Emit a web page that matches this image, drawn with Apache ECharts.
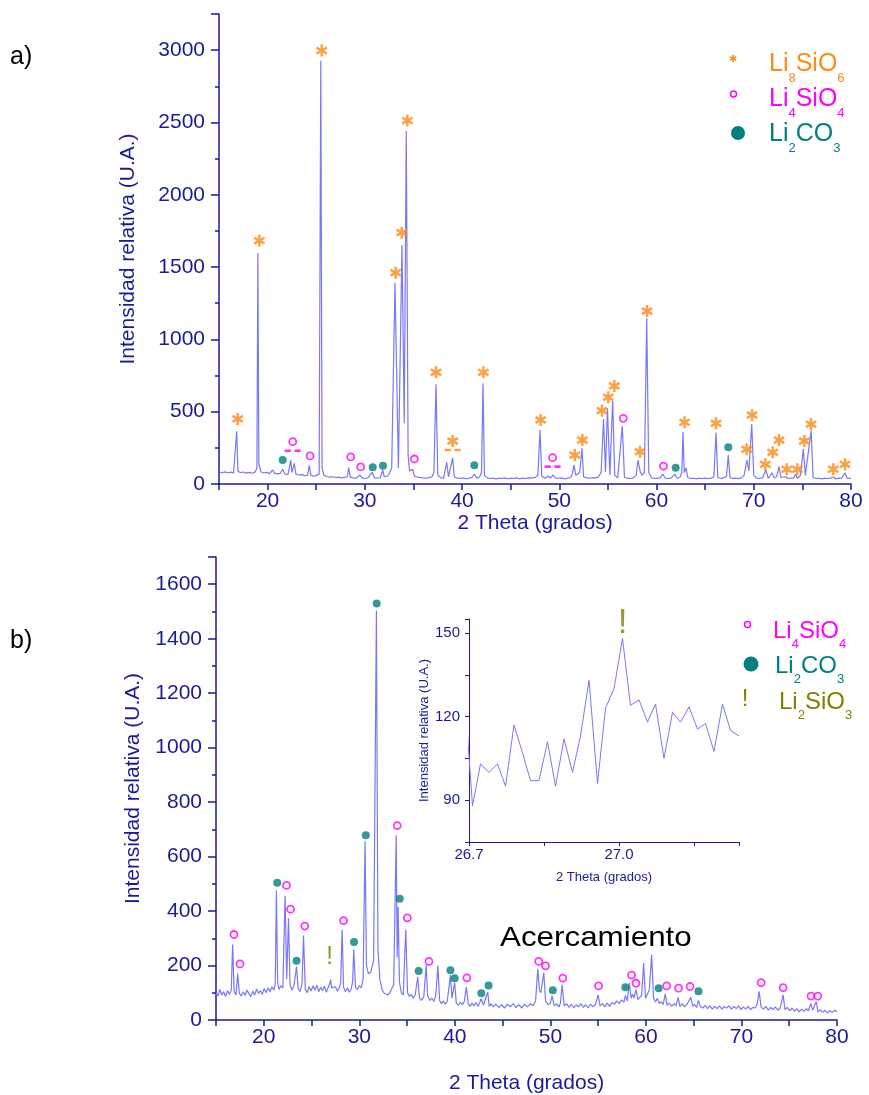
<!DOCTYPE html>
<html>
<head>
<meta charset="utf-8">
<title>DRX Li8SiO6</title>
<script src="https://cdn.jsdelivr.net/npm/echarts/dist/echarts.min.js"></script>
<style>
  html, body { margin: 0; padding: 0; background: #fff; }
  #chart { width: 869px; height: 1095px; }
</style>
</head>
<body>
<div id="chart"></div>
<script>
// colores y fuente
const NAVY = '#1a1a9a'
const TRACE = '#7878f8'
const ORANGE = '#ff8a14'
const MAGENTA = '#ff00ff'
const TEAL = '#008080'
const OLIVE = '#808000'
const FONT = '"Liberation Sans", Arial, sans-serif'

// ---- a) patron de difraccion [2theta, intensidad]
const traceA = [
  [15.0, 85], [15.3, 78], [15.6, 84], [15.9, 76], [16.2, 82], [16.5, 77], [16.7, 85], [16.82, 365], [16.95, 90],
  [17.2, 78], [17.5, 83], [17.8, 75], [18.1, 80], [18.4, 74], [18.7, 82], [18.9, 110], [19.0, 1598], [19.1, 140],
  [19.3, 85], [19.6, 76], [19.9, 80], [20.2, 72], [20.52, 97], [20.7, 75], [21.0, 70], [21.3, 74], [21.55, 101],
  [21.8, 68], [22.1, 66], [22.37, 166], [22.5, 80], [22.74, 143], [22.9, 70], [23.2, 62], [23.5, 65], [23.8, 58],
  [24.1, 60], [24.29, 129], [24.45, 60], [24.7, 55], [25.0, 58], [25.3, 70], [25.47, 2927], [25.6, 110], [25.8, 60],
  [26.1, 52], [26.4, 48], [26.7, 50], [27.0, 45], [27.3, 48], [27.6, 42], [27.9, 46], [28.2, 50], [28.34, 113],
  [28.5, 48], [28.8, 42], [29.1, 40], [29.5, 62], [29.7, 42], [30.0, 38], [30.3, 42], [30.5, 45], [30.77, 81],
  [31.0, 42], [31.3, 40], [31.6, 45], [31.83, 97], [32.0, 50], [32.3, 55], [32.5, 70], [32.76, 110], [32.95, 120],
  [33.1, 1392], [33.45, 110], [33.82, 1653], [34.05, 420], [34.26, 2441], [34.45, 200], [34.6, 90], [34.92, 101],
  [35.1, 55], [35.4, 48], [35.7, 45], [36.0, 42], [36.3, 40], [36.6, 44], [36.9, 50], [37.1, 80], [37.32, 690],
  [37.5, 60], [37.8, 44], [38.1, 40], [38.42, 150], [38.6, 50], [38.75, 55], [39.03, 180], [39.2, 50], [39.5, 40],
  [39.8, 38], [40.1, 42], [40.4, 36], [40.7, 40], [41.0, 44], [41.26, 69], [41.5, 42], [41.8, 48], [42.0, 80],
  [42.15, 696], [42.3, 60], [42.6, 42], [42.9, 38], [43.2, 40], [43.5, 36], [43.8, 40], [44.1, 38], [44.4, 42],
  [44.7, 36], [45.0, 40], [45.3, 38], [45.6, 42], [45.9, 36], [46.2, 40], [46.5, 38], [46.8, 42], [47.1, 40],
  [47.5, 44], [47.8, 60], [48.01, 373], [48.2, 55], [48.5, 40], [48.87, 55], [49.1, 42], [49.38, 62], [49.6, 40],
  [49.9, 38], [50.2, 42], [50.5, 36], [50.8, 40], [51.1, 44], [51.3, 60], [51.51, 131], [51.7, 60], [51.9, 55],
  [52.1, 80], [52.33, 247], [52.5, 50], [52.8, 42], [53.1, 40], [53.4, 44], [53.7, 42], [54.0, 48], [54.3, 80],
  [54.55, 450], [54.75, 85], [54.95, 523], [55.2, 62], [55.49, 576], [55.7, 60], [56.0, 42], [56.2, 50],
  [56.48, 401], [56.7, 45], [57.0, 40], [57.3, 38], [57.6, 42], [57.9, 60], [58.1, 166], [58.3, 90], [58.5, 60],
  [58.75, 80], [58.99, 1148], [59.2, 80], [59.5, 42], [59.8, 38], [60.1, 40], [60.4, 42], [60.64, 69], [60.9, 40],
  [61.2, 38], [61.5, 40], [61.87, 69], [62.1, 40], [62.4, 45], [62.6, 80], [62.72, 362], [62.85, 80], [63.03, 111],
  [63.2, 45], [63.5, 38], [63.8, 40], [64.1, 36], [64.4, 40], [64.7, 38], [65.0, 40], [65.3, 37], [65.6, 40],
  [65.9, 50], [66.12, 355], [66.3, 45], [66.6, 38], [66.9, 42], [67.2, 55], [67.38, 200], [67.55, 45], [67.8, 38],
  [68.1, 40], [68.4, 37], [68.7, 42], [69.0, 60], [69.3, 166], [69.5, 90], [69.79, 415], [70.0, 60], [70.3, 40],
  [70.6, 38], [70.9, 42], [71.23, 97], [71.5, 40], [71.88, 78], [72.1, 42], [72.35, 50], [72.6, 120], [72.8, 45],
  [73.0, 40], [73.29, 50], [73.5, 38], [73.8, 40], [74.1, 42], [74.3, 67], [74.5, 40], [74.8, 60], [75.1, 242],
  [75.3, 60], [75.5, 50], [75.9, 369], [76.1, 45], [76.4, 38], [76.7, 40], [77.0, 36], [77.3, 40], [77.6, 38],
  [77.9, 40], [78.18, 48], [78.4, 36], [78.7, 40], [79.0, 38], [79.2, 42], [79.38, 78], [79.6, 38], [80.0, 40]
]

// marcas de fases en a)  [2theta, posicion]
const starsA = [
  [16.92, 450], [19.15, 1683], [25.56, 2997], [33.17, 1461], [33.79, 1738], [34.37, 2513], [37.32, 772],
  [39.03, 297], [42.19, 772], [48.08, 443], [51.59, 200], [52.37, 304], [54.39, 507], [55.04, 600], [55.66, 678],
  [58.3, 223], [59.02, 1196], [62.89, 427], [66.12, 420], [69.27, 240], [69.82, 477], [71.19, 136], [71.95, 219],
  [72.6, 304], [73.39, 102], [74.48, 102], [75.2, 297], [75.89, 413], [78.18, 102], [79.38, 136]
]
const circlesA = [[22.58, 293], [24.36, 194], [28.55, 187], [29.57, 118], [35.09, 173], [49.31, 182], [56.58, 454], [60.71, 124]]
const dotsA = [[21.55, 166], [30.81, 115], [31.87, 127], [41.26, 129], [61.97, 113], [67.38, 254]]
const orangeDashA = [[39.03, 235]]
const magentaDashA = [[22.58, 230], [49.31, 120]]

// ---- b) patron de difraccion
const traceB = [
  [15.0, 100], [15.2, 88], [15.4, 112], [15.6, 92], [15.8, 104], [16.0, 86], [16.2, 108], [16.4, 94], [16.6, 110],
  [16.74, 277], [16.9, 105], [17.1, 92], [17.27, 171], [17.45, 98], [17.65, 88], [17.85, 104], [18.05, 90],
  [18.25, 110], [18.45, 96], [18.65, 86], [18.85, 106], [19.05, 92], [19.25, 114], [19.45, 98], [19.65, 108],
  [19.85, 94], [20.05, 116], [20.25, 100], [20.45, 118], [20.65, 104], [20.85, 122], [21.05, 110], [21.2, 130],
  [21.32, 476], [21.45, 140], [21.6, 112], [21.8, 126], [22.0, 118], [22.23, 457], [22.4, 150], [22.59, 374],
  [22.75, 130], [22.95, 110], [23.15, 124], [23.3, 120], [23.43, 196], [23.6, 115], [23.8, 105], [24.0, 130],
  [24.16, 310], [24.35, 112], [24.55, 100], [24.75, 122], [24.95, 106], [25.15, 126], [25.35, 110], [25.55, 128],
  [25.75, 104], [25.95, 120], [26.15, 108], [26.35, 124], [26.55, 102], [26.75, 100], [26.9, 133], [27.0, 148],
  [27.1, 118], [27.3, 112], [27.5, 122], [27.7, 106], [27.9, 118], [28.05, 135], [28.2, 332], [28.35, 120],
  [28.55, 104], [28.75, 118], [28.95, 102], [29.15, 114], [29.3, 140], [29.42, 259], [29.6, 120], [29.8, 112],
  [30.0, 126], [30.2, 118], [30.4, 150], [30.6, 656], [30.75, 200], [30.95, 170], [31.2, 175], [31.5, 220],
  [31.79, 1504], [31.95, 260], [32.15, 150], [32.4, 110], [32.6, 98], [32.8, 104], [33.0, 92], [33.2, 100],
  [33.4, 96], [33.6, 130], [33.86, 677], [33.96, 230], [34.06, 415], [34.2, 140], [34.4, 100], [34.6, 92],
  [34.86, 332], [35.05, 100], [35.25, 86], [35.45, 94], [35.65, 80], [35.85, 92], [36.11, 158], [36.3, 80],
  [36.5, 72], [36.75, 86], [37.0, 202], [37.15, 90], [37.4, 72], [37.6, 80], [37.8, 68], [38.0, 90], [38.23, 200],
  [38.4, 72], [38.6, 60], [38.8, 70], [39.0, 58], [39.2, 68], [39.4, 75], [39.54, 165], [39.7, 80], [39.98, 137],
  [40.15, 62], [40.4, 54], [40.6, 66], [40.8, 56], [41.0, 70], [41.2, 121], [41.4, 60], [41.6, 50], [41.8, 62],
  [42.0, 52], [42.2, 64], [42.45, 50], [42.75, 78], [43.0, 55], [43.2, 62], [43.44, 103], [43.6, 50], [43.8, 60],
  [44.0, 48], [44.3, 58], [44.6, 46], [44.9, 56], [45.2, 44], [45.5, 58], [45.8, 48], [46.1, 60], [46.4, 46],
  [46.7, 56], [47.0, 44], [47.3, 58], [47.6, 48], [47.9, 60], [48.2, 52], [48.45, 70], [48.68, 188], [48.85, 110],
  [49.0, 100], [49.31, 173], [49.5, 70], [49.75, 56], [50.0, 62], [50.18, 89], [50.4, 52], [50.65, 60], [50.9, 48],
  [51.05, 62], [51.23, 129], [51.45, 52], [51.7, 60], [51.95, 46], [52.2, 58], [52.45, 44], [52.7, 56], [52.95, 48],
  [53.2, 60], [53.45, 46], [53.7, 56], [53.95, 44], [54.2, 58], [54.45, 48], [54.7, 56], [55.0, 92], [55.2, 52],
  [55.45, 60], [55.7, 48], [55.95, 62], [56.2, 50], [56.45, 64], [56.7, 58], [56.95, 70], [57.2, 60], [57.45, 74],
  [57.7, 66], [57.85, 90], [58.05, 70], [58.26, 136], [58.45, 80], [58.6, 95], [58.75, 80], [58.96, 112],
  [59.15, 75], [59.35, 82], [59.55, 90], [59.76, 209], [59.95, 80], [60.15, 95], [60.35, 110], [60.6, 239],
  [60.8, 80], [61.0, 66], [61.2, 80], [61.4, 60], [61.6, 68], [61.8, 56], [62.03, 96], [62.2, 54], [62.45, 62],
  [62.7, 50], [62.95, 60], [63.15, 52], [63.37, 83], [63.55, 50], [63.8, 60], [64.05, 48], [64.3, 58], [64.5, 52],
  [64.7, 83], [64.9, 50], [65.1, 58], [65.3, 46], [65.5, 72], [65.7, 50], [65.95, 44], [66.2, 54], [66.45, 42],
  [66.7, 52], [66.95, 40], [67.2, 50], [67.45, 42], [67.7, 52], [67.95, 40], [68.2, 50], [68.45, 44], [68.7, 52],
  [68.95, 40], [69.2, 50], [69.45, 42], [69.7, 52], [69.95, 38], [70.2, 48], [70.45, 40], [70.7, 50], [70.95, 38],
  [71.2, 46], [71.45, 44], [71.65, 60], [71.85, 105], [72.05, 48], [72.3, 40], [72.55, 50], [72.8, 36], [73.05, 46],
  [73.3, 38], [73.55, 48], [73.8, 36], [74.05, 44], [74.2, 40], [74.36, 92], [74.55, 38], [74.8, 46], [75.05, 34],
  [75.3, 44], [75.55, 32], [75.8, 42], [76.05, 30], [76.3, 40], [76.55, 32], [76.8, 42], [77.0, 34], [77.25, 61],
  [77.45, 36], [77.63, 40], [77.83, 67], [78.0, 30], [78.25, 38], [78.5, 28], [78.75, 36], [79.0, 26], [79.25, 34],
  [79.5, 28], [79.75, 36], [80.0, 30]
]
const circlesB = [
  [16.88, 314], [17.51, 206], [22.38, 494], [22.8, 407], [24.3, 345], [28.35, 365], [33.97, 714], [35.03, 375],
  [37.29, 215], [41.26, 155], [48.78, 215], [49.49, 199], [51.3, 154], [55.04, 125], [58.5, 165], [58.96, 135],
  [62.17, 125], [63.41, 117], [64.62, 123], [72.06, 137], [74.36, 119], [77.28, 88], [77.98, 88]
]
const dotsB = [
  [21.41, 504], [23.43, 218], [29.45, 286], [30.68, 678], [31.82, 1529], [34.23, 445], [36.21, 180], [39.54, 183],
  [39.98, 153], [42.77, 98], [43.53, 127], [50.25, 109], [57.85, 120], [61.33, 117], [65.5, 106]
]
const bangB = [[26.9, 232]]

// ---- recuadro (acercamiento)
const insetTrace = [
  [26.69, 131], [26.707, 88], [26.723, 103], [26.74, 100], [26.757, 103], [26.773, 95], [26.79, 117], [26.807, 107],
  [26.823, 97], [26.84, 97], [26.857, 111], [26.873, 95], [26.89, 112], [26.907, 100], [26.923, 113], [26.94, 133],
  [26.957, 96], [26.973, 123], [26.99, 130], [27.007, 148], [27.023, 124], [27.04, 126], [27.057, 118],
  [27.073, 124.5], [27.09, 105], [27.107, 121.5], [27.123, 118], [27.14, 123.5], [27.157, 115.5], [27.173, 117.5],
  [27.19, 107.5], [27.207, 124.5], [27.223, 115], [27.24, 113]
]
const bangInset = [[27.007, 153.5]]

// asterisco de 6 brazos
const starPts = (() => {
  const L = 10, w = 2.1, pts = []
  for (let k = 0; k < 6; k++) {
    const t = (90 + 60 * k) * Math.PI / 180
    const c = Math.cos(t), s = Math.sin(t)
    pts.push([L * c + w * s, L * s - w * c])
    pts.push([L * c - w * s, L * s + w * c])
    const t2 = t + Math.PI / 6
    pts.push([2 * w * Math.cos(t2), 2 * w * Math.sin(t2)])
  }
  return pts
})()
const starSymbol = 'path://M' + starPts.map(p => p[0].toFixed(2) + ',' + p[1].toFixed(2)).join('L') + 'Z'
const dashSymbol = 'path://M0,0H6V2.5H0ZM9.5,0H15.5V2.5H9.5Z'

const chart = echarts.init(document.getElementById('chart'))

const axisLine = { show: true, onZero: false, lineStyle: { color: NAVY, width: 1.5 } }
const tickStyle = { color: NAVY, width: 1.5 }
const nameStyle = (fs) => ({ color: NAVY, fontSize: fs, fontFamily: FONT })

const xMain = (grid, nameGap) => ({
  gridIndex: grid, type: 'value', min: 15, max: 80, interval: 5,
  axisLine, axisTick: { show: true, length: 6, lineStyle: tickStyle },
  axisLabel: { color: NAVY, fontSize: 21, fontFamily: FONT, margin: 7,
    formatter: v => (v % 10 === 0 ? String(v) : '') },
  splitLine: { show: false },
  name: '2 Theta (grados)', nameLocation: 'middle', nameGap, nameTextStyle: nameStyle(21)
})

const yMain = (grid, max, step, nameGap) => ({
  gridIndex: grid, type: 'value', min: 0, max, interval: step,
  axisLine, axisTick: { show: true, length: 8, lineStyle: tickStyle },
  minorTick: { show: true, splitNumber: 2, length: 4, lineStyle: tickStyle },
  axisLabel: { color: NAVY, fontSize: 21, fontFamily: FONT, margin: 14,
    formatter: v => (v % step === 0 ? String(v) : '') },
  splitLine: { show: false }, minorSplitLine: { show: false },
  name: 'Intensidad relativa (U.A.)', nameLocation: 'middle', nameGap, nameTextStyle: nameStyle(21)
})

const scatter = (x, y, data, extra) => Object.assign({
  type: 'scatter', xAxisIndex: x, yAxisIndex: y, data, silent: true, z: 3
}, extra)

const ring = { symbol: 'circle', symbolSize: 7, itemStyle: { color: 'rgba(0,0,0,0)', borderColor: MAGENTA, borderWidth: 1.8 } }
const dot = { symbol: 'circle', symbolSize: 8, itemStyle: { color: TEAL } }
const bang = (fs) => ({
  symbol: 'circle', symbolSize: 1, itemStyle: { color: 'rgba(0,0,0,0)' },
  label: { show: true, position: 'inside', formatter: '!', color: OLIVE, fontSize: fs, fontFamily: FONT }
})

// leyendas
const chem = (text, color, x, y, fs, sub, drop) => ({
  type: 'text', x, y, silent: true,
  style: {
    text, fill: color, fontSize: fs, fontFamily: FONT, verticalAlign: 'middle',
    rich: {
      m: { fontSize: fs, fill: color, fontFamily: FONT },
      s: { fontSize: sub, fill: color, fontFamily: FONT, padding: [drop * 2, 0, 0, 0] }
    }
  }
})

const graphic = [
  { type: 'text', x: 10, y: 57, style: { text: 'a)', fontSize: 25, fill: '#000', fontFamily: FONT, verticalAlign: 'middle' } },
  { type: 'text', x: 10, y: 641, style: { text: 'b)', fontSize: 25, fill: '#000', fontFamily: FONT, verticalAlign: 'middle' } },
  { type: 'polygon', x: 733, y: 58.5, scaleX: 0.37, scaleY: 0.37, shape: { points: starPts }, style: { fill: ORANGE } },
  { type: 'circle', shape: { cx: 733.5, cy: 94, r: 3 }, style: { fill: 'none', stroke: MAGENTA, lineWidth: 1.5 } },
  { type: 'circle', shape: { cx: 738, cy: 133, r: 7 }, style: { fill: TEAL } },
  chem('{m|Li}{s|8}{m|SiO}{s|6}', ORANGE, 769, 64, 25, 13, 14),
  chem('{m|Li}{s|4}{m|SiO}{s|4}', MAGENTA, 769, 99, 25, 13, 14),
  chem('{m|Li}{s|2}{m|CO}{s|3}', TEAL, 769, 134, 25, 13, 14),
  { type: 'circle', shape: { cx: 747.5, cy: 624.5, r: 3 }, style: { fill: 'none', stroke: MAGENTA, lineWidth: 1.5 } },
  { type: 'circle', shape: { cx: 751, cy: 664, r: 7.5 }, style: { fill: TEAL } },
  { type: 'text', x: 745, y: 699, style: { text: '!', fontSize: 24, fill: OLIVE, fontFamily: FONT, align: 'center', verticalAlign: 'middle' } },
  chem('{m|Li}{s|4}{m|SiO}{s|4}', MAGENTA, 773, 631, 24, 13, 13),
  chem('{m|Li}{s|2}{m|CO}{s|3}', TEAL, 775, 666, 24, 13, 13),
  chem('{m|Li}{s|2}{m|SiO}{s|3}', OLIVE, 779, 702, 24, 13, 13),
  { type: 'text', x: 500, y: 938, scaleX: 1.12, style: { text: 'Acercamiento', fontSize: 28, fill: '#000', fontFamily: FONT, verticalAlign: 'middle' } }
]

const option = {
  animation: false,
  backgroundColor: '#fff',
  grid: [
    { left: 219, right: 18, top: 14, bottom: 611 },
    { left: 216, right: 32, top: 557, bottom: 75 },
    { left: 469, right: 130, top: 619, bottom: 253 }
  ],
  xAxis: [
    xMain(0, 21),
    xMain(1, 53),
    {
      gridIndex: 2, type: 'value', min: 26.7, max: 27.24, interval: 0.15,
      axisLine: { show: true, onZero: false, lineStyle: { color: NAVY, width: 1 } },
      axisTick: { show: true, length: 4, lineStyle: { color: NAVY, width: 1 } },
      axisLabel: { color: NAVY, fontSize: 15, fontFamily: FONT, margin: 5,
        formatter: v => {
          const t = Math.round(v * 10)
          return Math.abs(v * 10 - t) < 1e-6 && t % 3 === 0 ? v.toFixed(1) : ''
        } },
      splitLine: { show: false },
      name: '2 Theta (grados)', nameLocation: 'middle', nameGap: 29, nameTextStyle: nameStyle(13)
    }
  ],
  yAxis: [
    yMain(0, 3250, 500, 80),
    yMain(1, 1700, 200, 72),
    {
      gridIndex: 2, type: 'value', min: 75, max: 155, interval: 15,
      axisLine: { show: true, onZero: false, lineStyle: { color: NAVY, width: 1 } },
      axisTick: { show: true, length: 4, lineStyle: { color: NAVY, width: 1 } },
      axisLabel: { color: NAVY, fontSize: 15, fontFamily: FONT, margin: 9,
        formatter: v => (v % 30 === 0 ? String(v) : '') },
      splitLine: { show: false },
      name: 'Intensidad relativa (U.A.)', nameLocation: 'middle', nameGap: 32, nameTextStyle: nameStyle(13)
    }
  ],
  series: [
    { type: 'line', xAxisIndex: 0, yAxisIndex: 0, data: traceA, showSymbol: false, symbol: 'none',
      lineStyle: { color: TRACE, width: 1.2 }, silent: true },
    scatter(0, 0, starsA, { symbol: starSymbol, symbolSize: 12, symbolKeepAspect: true, itemStyle: { color: ORANGE } }),
    scatter(0, 0, circlesA, ring),
    scatter(0, 0, dotsA, dot),
    scatter(0, 0, orangeDashA, { symbol: dashSymbol, symbolSize: [16, 2.6], itemStyle: { color: ORANGE } }),
    scatter(0, 0, magentaDashA, { symbol: dashSymbol, symbolSize: [16, 2.6], itemStyle: { color: MAGENTA } }),

    { type: 'line', xAxisIndex: 1, yAxisIndex: 1, data: traceB, showSymbol: false, symbol: 'none',
      lineStyle: { color: TRACE, width: 1.2 }, silent: true },
    scatter(1, 1, circlesB, ring),
    scatter(1, 1, dotsB, dot),
    scatter(1, 1, bangB, bang(26)),

    { type: 'line', xAxisIndex: 2, yAxisIndex: 2, data: insetTrace, showSymbol: false, symbol: 'none',
      lineStyle: { color: TRACE, width: 1 }, silent: true },
    scatter(2, 2, bangInset, bang(35))
  ],
  graphic
}

chart.setOption(option)
</script>
</body>
</html>
